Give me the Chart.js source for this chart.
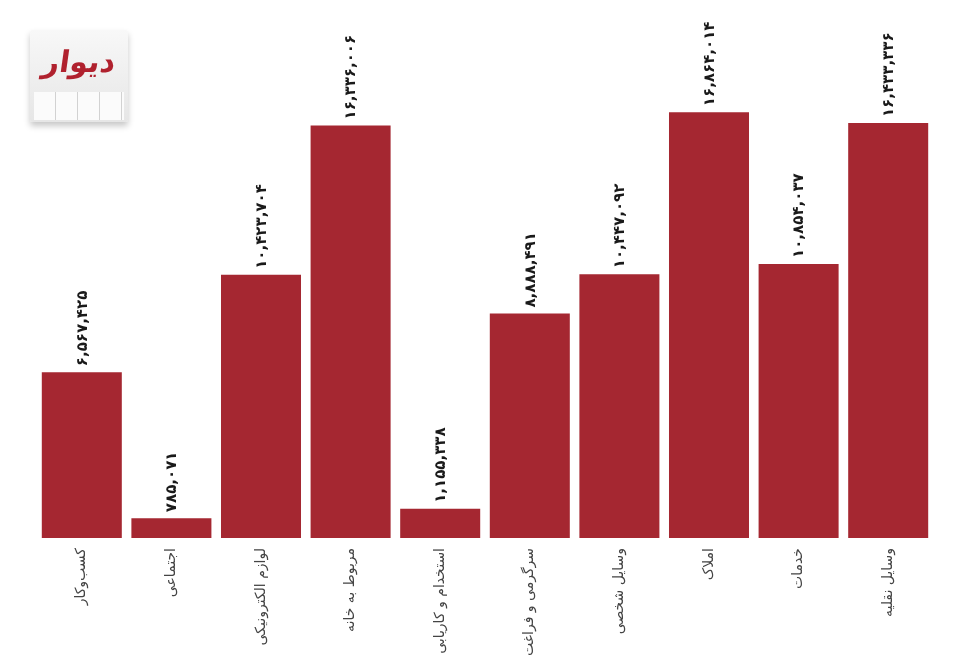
<!DOCTYPE html>
<html lang="fa">
<head>
<meta charset="utf-8">
<script src="https://cdn.jsdelivr.net/npm/chart.js@4.4.0/dist/chart.umd.min.js"></script>
<style>
  html, body { margin: 0; padding: 0; background: #fff; }
  #wrap { position: relative; width: 977px; height: 656px; }
  #logo {
    position: absolute; left: 30px; top: 30px; width: 98px; height: 92px;
    background: linear-gradient(#f8f8f8, #e6e6e6);
    box-shadow: 0 4px 6px rgba(0,0,0,0.22);
    border-radius: 2px;
  }
  #logo .txt {
    position: absolute; left: 0; top: 14px; width: 98px; text-align: center;
    font-family: "DejaVu Sans", sans-serif; font-weight: bold; font-size: 30px;
    color: #b0212e; direction: rtl; transform: skewX(-8deg);
  }
  #logo .tabs {
    position: absolute; left: 4px; right: 4px; bottom: 2px; height: 28px;
    background: repeating-linear-gradient(90deg, #fbfbfb 0 21px, #d2d2d2 21px 22px);
  }
</style>
</head>
<body>
<div id="wrap">
  <canvas id="chart" width="977" height="656"></canvas>
  <div id="logo"><div class="txt">دیوار</div><div class="tabs"></div></div>
</div>
<script>
// دسته‌ها و مقادیر
const categories = ['کسب‌وکار', 'اجتماعی', 'لوازم الکترونیکی', 'مربوط به خانه', 'استخدام و کاریابی',
  'سرگرمی و فراغت', 'وسایل شخصی', 'املاک', 'خدمات', 'وسایل نقلیه'];
const values = [6567425, 785071, 10423704, 16336006, 1155338, 8888491, 10447092, 16864014, 10854037, 16433336];
const yMax = 20000000;

const faDigits = '۰۱۲۳۴۵۶۷۸۹';
function toFa(n) {
  return n.toLocaleString('en-US').replace(/[0-9]/g, d => faDigits[d]);
}

// نوشتن عدد بالای هر ستون
const valueLabels = {
  id: 'valueLabels',
  afterDatasetsDraw(chart) {
    const ctx = chart.ctx;
    const meta = chart.getDatasetMeta(0);
    ctx.save();
    ctx.font = 'bold 15px "DejaVu Sans", sans-serif';
    ctx.fillStyle = '#1a1a1a';
    ctx.textAlign = 'left';
    ctx.textBaseline = 'middle';
    meta.data.forEach((bar, i) => {
      ctx.save();
      ctx.translate(bar.x + 1, bar.y - 6);
      ctx.rotate(-Math.PI / 2);
      ctx.fillText(toFa(values[i]), 0, 0);
      ctx.restore();
    });
    ctx.restore();
  }
};

const ctx = document.getElementById('chart').getContext('2d');
const chart = new Chart(ctx, {
  type: 'bar',
  data: {
    labels: categories,
    datasets: [{
      data: values,
      backgroundColor: '#a52731',
      categoryPercentage: 1,
      barPercentage: 0.893
    }]
  },
  options: {
    responsive: false,
    animation: false,
    layout: { padding: { left: 37, right: 44, top: 33, bottom: 0 } },
    plugins: { legend: { display: false }, tooltip: { enabled: false } },
    scales: {
      x: {
        grid: { display: false },
        border: { display: false },
        afterFit: s => { s.height = 118; },
        ticks: {
          minRotation: 90, maxRotation: 90, padding: 2,
          color: '#444',
          font: { family: '"DejaVu Sans", sans-serif', size: 14 }
        }
      },
      y: { display: false, min: 0, max: yMax }
    }
  },
  plugins: [valueLabels]
});
</script>
</body>
</html>
